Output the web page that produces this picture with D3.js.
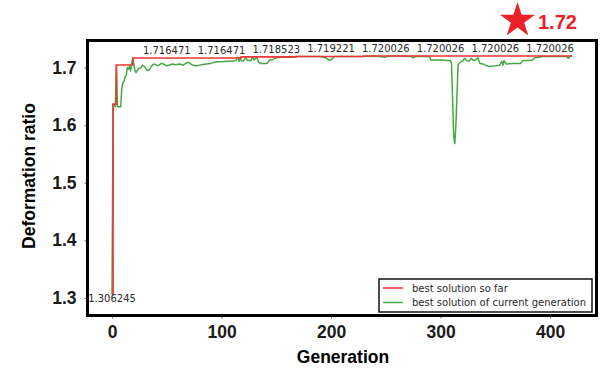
<!DOCTYPE html>
<html>
<head>
<meta charset="utf-8">
<script src="https://cdn.jsdelivr.net/npm/d3@7"></script>
<style>
  body { margin: 0; background: #fff; }
  svg { display: block; }
</style>
</head>
<body>
<div id="chart"></div>
<script>
// best solution so far (step line): generation where it changes, value
const bestGen = [0, 1, 4, 19, 118, 168, 230, 420];
const bestVal = [1.306245, 1.6365, 1.7043, 1.716471, 1.718523, 1.719221, 1.720026, 1.720026];

// best solution of the current generation
const currGen = [
  0, 1, 2, 3, 4, 5, 8, 9, 10, 11, 12, 13, 14, 15, 16, 17, 18, 19, 20, 21, 22,
  24, 26, 28, 30, 32, 34, 36, 38, 40, 42, 44, 46, 48, 50, 52, 55, 58, 62, 65,
  68, 70, 72, 74, 76, 78, 82, 86, 90, 93, 96, 100, 105, 110, 113, 115, 116,
  117, 118, 120, 122, 124, 127, 128, 130, 132, 134, 136, 140, 142, 144, 147,
  150, 155, 160, 170, 180, 190, 195, 198, 200, 203, 210, 225, 240, 250, 252,
  260, 273, 275, 277, 290, 291, 300, 305, 309, 310, 312, 313, 314, 316, 318,
  320, 322, 324, 326, 328, 330, 332, 334, 336, 339, 342, 345, 350, 354, 356,
  357, 358, 360, 365, 373, 375, 380, 384, 386, 390, 393, 400, 415, 417, 418, 420
];
const currVal = [
  1.306245, 1.636, 1.634, 1.632, 1.704, 1.632, 1.632, 1.665, 1.674, 1.676, 1.684, 1.686, 1.700, 1.697, 1.702, 1.694, 1.708, 1.716, 1.705, 1.694, 1.691,
  1.698, 1.699, 1.704, 1.701, 1.695, 1.696, 1.702, 1.706, 1.705, 1.703, 1.706, 1.707, 1.705, 1.703, 1.704, 1.706, 1.705, 1.706, 1.704,
  1.708, 1.709, 1.706, 1.704, 1.703, 1.703, 1.705, 1.706, 1.707, 1.709, 1.710, 1.710, 1.711, 1.711, 1.712, 1.718, 1.711,
  1.718, 1.712, 1.711, 1.717, 1.712, 1.712, 1.718, 1.713, 1.718, 1.709, 1.707, 1.707, 1.708, 1.713, 1.714,
  1.717, 1.718, 1.718, 1.719, 1.719, 1.719, 1.717, 1.713, 1.713, 1.719, 1.719, 1.719, 1.720, 1.718, 1.720,
  1.720, 1.719, 1.717, 1.719, 1.719, 1.713, 1.713, 1.712, 1.712, 1.707, 1.580, 1.568, 1.600, 1.705, 1.709,
  1.711, 1.716, 1.712, 1.711, 1.716, 1.712, 1.713, 1.717, 1.707, 1.706, 1.703, 1.702, 1.703, 1.704, 1.711,
  1.704, 1.712, 1.706, 1.707, 1.707, 1.712, 1.712, 1.713, 1.717, 1.718, 1.719, 1.719, 1.719, 1.716, 1.720, 1.719
];

// value labels written on the plot
const labelGen = [0, 50, 100, 150, 200, 250, 300, 350, 400];
const labelVal = [1.306245, 1.716471, 1.716471, 1.718523, 1.719221, 1.720026, 1.720026, 1.720026, 1.720026];

const xTicks = [0, 100, 200, 300, 400];
const yTicks = [1.3, 1.4, 1.5, 1.6, 1.7];

const seriesNames = ["best solution so far", "best solution of current generation"];
const seriesColors = ["#ef3535", "#45a845"];

const width = 602;
const height = 371;
const plot = { left: 89, right: 595, top: 42, bottom: 314 };

const svg = d3.select("#chart")
  .append("svg")
  .attr("width", width)
  .attr("height", height);

svg.append("rect")
  .attr("width", width)
  .attr("height", height)
  .attr("fill", "#fff");

const x = d3.scaleLinear()
  .domain([-21, 441])
  .range([plot.left, plot.right]);

const y = d3.scaleLinear()
  .domain([1.2722, 1.7443])
  .range([plot.bottom, plot.top]);

// axes
const xAxis = svg.append("g")
  .attr("transform", "translate(0," + (plot.bottom + 1.5) + ")")
  .call(d3.axisBottom(x).tickValues(xTicks).tickSize(3).tickPadding(7).tickFormat(d3.format("d")));

const yAxis = svg.append("g")
  .attr("transform", "translate(" + (plot.left - 1.5) + ",0)")
  .call(d3.axisLeft(y).tickValues(yTicks).tickSize(3).tickPadding(8).tickFormat(d3.format(".1f")));

[xAxis, yAxis].forEach((a) => {
  a.select(".domain").remove();
  a.selectAll(".tick line").attr("stroke", "#666");
  a.selectAll("text")
    .attr("fill", "#1a1a1a")
    .style("font-family", "'Liberation Sans', Arial, sans-serif")
    .style("font-weight", "700")
    .style("font-size", "17.5px");
});

// lines
const bestData = bestGen.map((g, i) => ({ g: g, v: bestVal[i] }));
const currData = currGen.map((g, i) => ({ g: g, v: currVal[i] }));

svg.append("path")
  .datum(currData)
  .attr("fill", "none")
  .attr("stroke", seriesColors[1])
  .attr("stroke-width", 1.5)
  .attr("stroke-linejoin", "round")
  .attr("d", d3.line().x((d) => x(d.g)).y((d) => y(d.v)));

svg.append("path")
  .datum(bestData)
  .attr("fill", "none")
  .attr("stroke", seriesColors[0])
  .attr("stroke-width", 1.6)
  .attr("d", d3.line().x((d) => x(d.g)).y((d) => y(d.v)).curve(d3.curveStepAfter));

// value labels
svg.append("g")
  .selectAll("text")
  .data(labelGen)
  .join("text")
  .attr("x", (d) => x(d))
  .attr("y", (d, i) => y(labelVal[i]) + (labelVal[i] < 1.5 ? 8 : -4))
  .attr("text-anchor", "middle")
  .attr("fill", "#2a2a2a")
  .style("font-family", "'DejaVu Sans', sans-serif")
  .style("font-size", "10px")
  .text((d, i) => labelVal[i].toFixed(6));

// frame
svg.append("rect")
  .attr("x", plot.left - 1.5)
  .attr("y", plot.top - 1.5)
  .attr("width", plot.right - plot.left + 3)
  .attr("height", plot.bottom - plot.top + 3)
  .attr("fill", "none")
  .attr("stroke", "#000")
  .attr("stroke-width", 3);

// legend
const legend = svg.append("g")
  .attr("transform", "translate(379,279)");

legend.append("rect")
  .attr("width", 213)
  .attr("height", 33)
  .attr("fill", "#fff")
  .attr("stroke", "#111")
  .attr("stroke-width", 1.5);

seriesNames.forEach((name, i) => {
  legend.append("line")
    .attr("x1", 4)
    .attr("x2", 24)
    .attr("y1", 9 + i * 14.5)
    .attr("y2", 9 + i * 14.5)
    .attr("stroke", seriesColors[i])
    .attr("stroke-width", 1.5);
  legend.append("text")
    .attr("x", 33)
    .attr("y", 12.5 + i * 14.5)
    .attr("fill", "#2a2a2a")
    .style("font-family", "'DejaVu Sans', sans-serif")
    .style("font-size", "10px")
    .text(name);
});

// axis titles
svg.append("text")
  .attr("x", (plot.left + plot.right) / 2 + 1)
  .attr("y", 363)
  .attr("text-anchor", "middle")
  .attr("fill", "#000")
  .style("font-family", "'Liberation Sans', Arial, sans-serif")
  .style("font-weight", "700")
  .style("font-size", "17.5px")
  .text("Generation");

svg.append("text")
  .attr("transform", "translate(35," + 176 + ") rotate(-90)")
  .attr("text-anchor", "middle")
  .attr("fill", "#000")
  .style("font-family", "'Liberation Sans', Arial, sans-serif")
  .style("font-weight", "700")
  .style("font-size", "17.5px")
  .text("Deformation ratio");

// max marker above the plot
const maxVal = d3.max(bestVal);

svg.append("path")
  .attr("transform", "translate(517.5,20.5)")
  .attr("d", d3.symbol(d3.symbolStar).size(380)())
  .attr("fill", "#ec2027");

svg.append("text")
  .attr("x", 538)
  .attr("y", 28.5)
  .attr("fill", "#ec2027")
  .style("font-family", "'Liberation Sans', Arial, sans-serif")
  .style("font-weight", "700")
  .style("font-size", "20px")
  .text(maxVal.toFixed(2));
</script>
</body>
</html>
